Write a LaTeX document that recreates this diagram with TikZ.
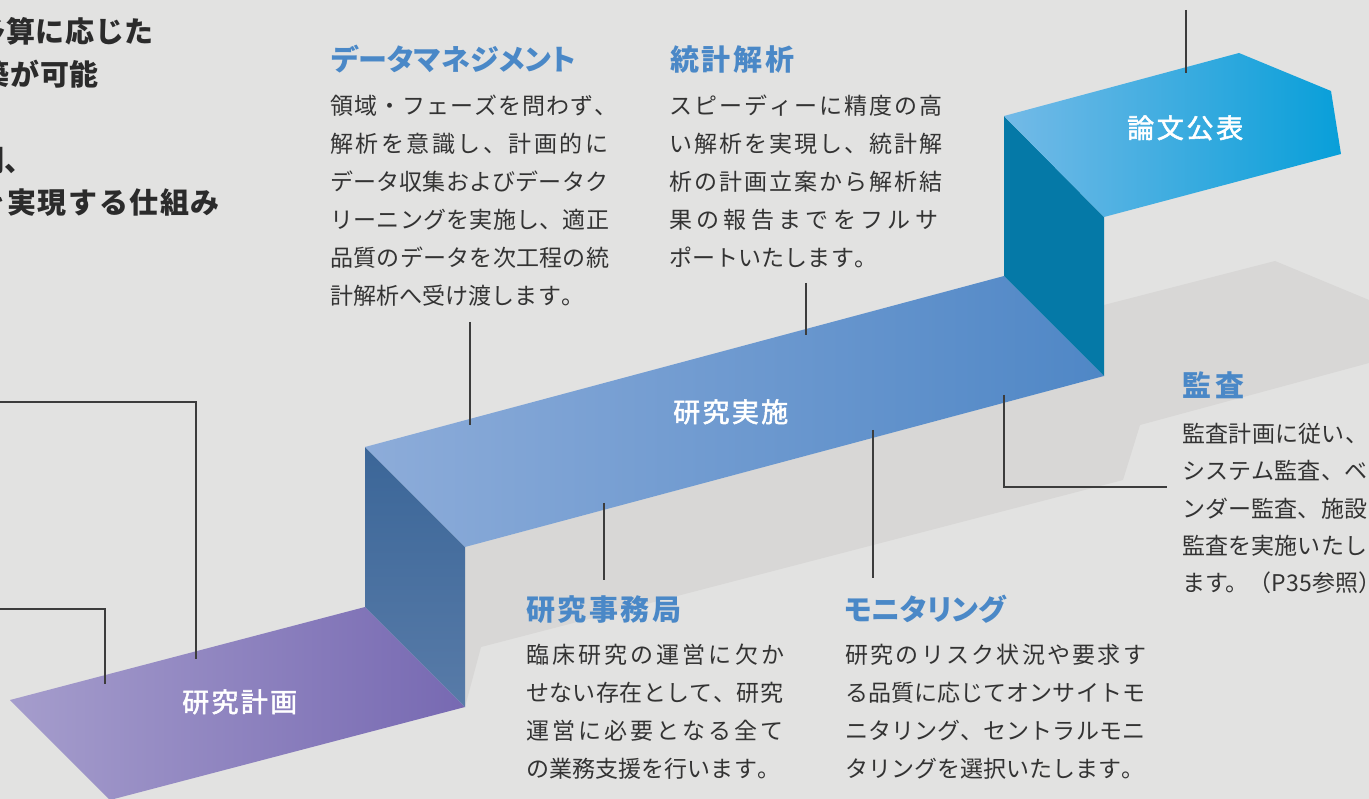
\documentclass[tikz,border=0pt]{standalone}
\usepackage{fontspec}
\setmainfont{Noto Sans CJK JP}
\newfontfamily\hfont[RawFeature=+palt]{Noto Sans CJK JP}
\newfontfamily\lfont[FakeBold=2]{Noto Sans CJK JP}
\definecolor{bg}{HTML}{E2E2E1}
\definecolor{shadowc}{HTML}{D8D7D6}
\definecolor{txt}{HTML}{333333}
\definecolor{leadc}{HTML}{2B2B2B}
\definecolor{hblue}{HTML}{4A88C7}
\definecolor{lc}{HTML}{3C3C3C}
\definecolor{purL}{HTML}{A59DCC}
\definecolor{purR}{HTML}{7769B2}
\definecolor{faceT}{HTML}{3B6698}
\definecolor{faceB}{HTML}{587BA8}
\definecolor{midL}{HTML}{8DACD9}
\definecolor{midR}{HTML}{4F87C6}
\definecolor{tealc}{HTML}{0579A7}
\definecolor{topL}{HTML}{74BAE7}
\definecolor{topR}{HTML}{089FD9}
\newcommand\jj[2]{\makebox[#1][s]{\jjA#2\relax}}
\def\jjA#1{#1\jjB}
\def\jjB#1{\ifx\relax#1\else\hfil#1\expandafter\jjB\fi}
\tikzset{
  body/.style={font=\fontsize{23}{23}\selectfont, text=txt, anchor=base west, inner sep=0pt},
  head/.style={font=\hfont\bfseries\fontsize{29}{29}\selectfont, text=hblue, anchor=base west, inner sep=0pt},
  leadtxt/.style={font=\bfseries\fontsize{29}{29}\selectfont, text=leadc, anchor=base east, inner sep=0pt},
  steplabel/.style={font=\lfont\fontsize{27}{27}\selectfont, text=white, anchor=base west, inner sep=0pt},
  conn/.style={draw=lc, line width=1.3pt},
}
\begin{document}
\begin{tikzpicture}[x=1pt,y=-1pt]
\useasboundingbox (0,0) rectangle (1369,799);
\clip (0,0) rectangle (1369,799);
\fill[bg] (0,0) rectangle (1369,799);
% shadow
\fill[shadowc] (465,547) -- (1104,376) -- (1104,305) -- (1275,261) -- (1369,300) -- (1369,363)
  -- (1140,425) -- (1123,480) -- (481,647) -- (465,707) -- cycle;
% step 1
\shade[left color=purL, right color=purR] (10,700) -- (365,607) -- (465,707) -- (110,800) -- cycle;
% riser 1
\shade[top color=faceT, bottom color=faceB] (365,447) -- (465,547) -- (465,707) -- (365,607) -- cycle;
% step 2
\shade[left color=midL, right color=midR] (365,447) -- (1004,276) -- (1104,376) -- (465,547) -- cycle;
% riser 2
\fill[tealc] (1004,116) -- (1104,217) -- (1104,376) -- (1004,276) -- cycle;
% step 3
\shade[left color=topL, right color=topR] (1004,116) -- (1239,53) -- (1331,91) -- (1341,154) -- (1104,217) -- cycle;

% connector end points
\coordinate (k1a) at (0,402);   \coordinate (k1b) at (196,659);
\coordinate (k2a) at (0,609);   \coordinate (k2b) at (105,684);
\coordinate (kd1) at (470,322); \coordinate (kd2) at (470,425);
\coordinate (ks1) at (806,283); \coordinate (ks2) at (806,335);
\coordinate (ko1) at (604,503); \coordinate (ko2) at (604,580);
\coordinate (km1) at (873,430); \coordinate (km2) at (873,578);
\coordinate (ka1) at (1004,395); \coordinate (ka2) at (1167,487);
\coordinate (kp1) at (1186,10); \coordinate (kp2) at (1186,73);
\draw[conn] (k1a) -| (k1b);
\draw[conn] (k2a) -| (k2b);
\draw[conn] (kd1) -- (kd2);
\draw[conn] (ks1) -- (ks2);
\draw[conn] (ko1) -- (ko2);
\draw[conn] (km1) -- (km2);
\draw[conn] (ka1) |- (ka2);
\draw[conn] (kp1) -- (kp2);

% step labels
\node[steplabel] (lab1) at (182,712) {\jj{115pt}{研究計画}};
\node[steplabel] (lab2) at (673,422) {\jj{115pt}{研究実施}};
\node[steplabel] (lab3) at (1127,138) {\jj{116pt}{論文公表}};

% top-left partial text
\node[leadtxt] (t1) at (154,43) {\jj{177pt}{予算に応じた}};
\node[leadtxt] (t2) at (99,86) {\jj{148pt}{構築が可能}};
\node[leadtxt] (t3) at (34,172) {\jj{88pt}{体制、}};
\node[leadtxt] (t4) at (220,214) {\jj{243pt}{を実現する仕組み}};

% data management
\node[head] (dmh) at (331,71) {\jj{245pt}{データマネジメント}};
\node[body] (dm1) at (330,114.5) {\jj{287pt}{領域・フェーズを問わず、}};
\node[body] (dm2) at (330,152.5) {\jj{278pt}{解析を意識し、計画的に}};
\node[body] (dm3) at (330,190.5) {\jj{278pt}{データ収集およびデータク}};
\node[body] (dm4) at (330,228.5) {\jj{279pt}{リーニングを実施し、適正}};
\node[body] (dm5) at (330,266.5) {\jj{279pt}{品質のデータを次工程の統}};
\node[body] (dm6) at (330,304.5) {\jj{254pt}{計解析へ受け渡します。}};

% statistics
\node[head] (sth) at (670,71) {\jj{124pt}{統計解析}};
\node[body] (st1) at (669,114.5) {\jj{273pt}{スピーディーに精度の高}};
\node[body] (st2) at (669,152.5) {\jj{273pt}{い解析を実現し、統計解}};
\node[body] (st3) at (669,190.5) {\jj{273pt}{析の計画立案から解析結}};
\node[body] (st4) at (669,228.5) {\jj{269pt}{果の報告までをフルサ}};
\node[body] (st5) at (669,266.5) {\jj{208pt}{ポートいたします。}};

% office
\node[head] (ofh) at (526,620) {\jj{155pt}{研究事務局}};
\node[body] (of1) at (526,663.5) {\jj{258pt}{臨床研究の運営に欠か}};
\node[body] (of2) at (526,701.5) {\jj{257pt}{せない存在として、研究}};
\node[body] (of3) at (526,739.5) {\jj{257pt}{運営に必要となる全て}};
\node[body] (of4) at (526,777.5) {\jj{254pt}{の業務支援を行います。}};

% monitoring
\node[head] (moh) at (844,620) {\jj{162pt}{モニタリング}};
\node[body] (mo1) at (845,663.5) {\jj{301pt}{研究のリスク状況や要求す}};
\node[body] (mo2) at (845,701.5) {\jj{300pt}{る品質に応じてオンサイトモ}};
\node[body] (mo3) at (845,739.5) {\jj{300pt}{ニタリング、セントラルモニ}};
\node[body] (mo4) at (845,777.5) {\jj{299pt}{タリングを選択いたします。}};

% audit
\node[head] (auh) at (1182,397) {\jj{62pt}{監査}};
\node[body] (au1) at (1182,442.5) {\jj{186pt}{監査計画に従い、}};
\node[body] (au2) at (1182,480) {\jj{185pt}{システム監査、ベ}};
\node[body] (au3) at (1182,517.5) {\jj{185pt}{ンダー監査、施設}};
\node[body] (au4) at (1182,554.5) {\jj{185pt}{監査を実施いたし}};
\node[body] (au5) at (1182,591.5) {ます。（P35参照）};
\end{tikzpicture}
\end{document}
